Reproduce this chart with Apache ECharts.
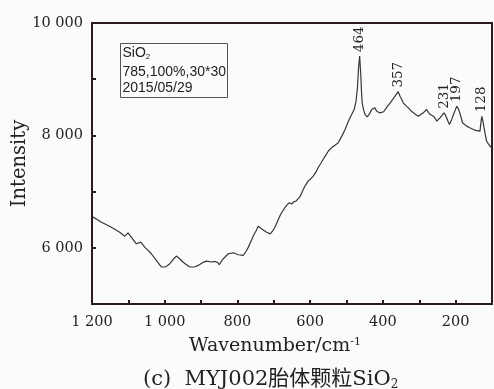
<!DOCTYPE html>
<html>
<head>
<meta charset="utf-8">
<script src="https://cdn.jsdelivr.net/npm/echarts@6/dist/echarts.min.js"></script>
<style>
  html, body { margin: 0; padding: 0; background: #fbfbfb; }
  #chart { width: 494px; height: 389px; }
</style>
</head>
<body>
<div id="chart"></div>
<script>
// Raman spectrum (wavenumber cm-1, intensity)
const wavenumbers = [
  1198, 1185, 1174, 1160, 1147, 1135, 1124, 1110, 1101, 1092, 1078, 1066, 1055, 1045, 1037,
  1023, 1009, 1000, 993, 986, 976, 968, 960, 950, 940, 931, 918, 908, 903, 895, 885, 871,
  862, 855, 850, 845, 839, 825, 811, 798, 784, 777, 770, 763, 756, 749, 743, 738, 733, 720,
  710, 703, 697, 690, 683, 676, 669, 663, 657, 651, 645, 639, 628, 621, 614, 605, 598, 591,
  584, 578, 571, 564, 557, 550, 541, 532, 523, 513, 504, 495, 486, 479, 474, 470, 467, 464,
  461, 459, 457, 453, 449, 443, 436, 431, 426, 422, 417, 413, 408, 403, 398, 394, 387, 380,
  373, 367, 362, 358, 353, 348, 344, 337, 330, 323, 316, 310, 303, 296, 289, 284, 280, 275,
  270, 261, 256, 252, 247, 243, 237, 232, 228, 225, 221, 217, 211, 206, 201, 197, 193, 190,
  185, 181, 176, 170, 165, 161, 156, 151, 145, 140, 133, 130, 128, 125, 121, 118, 115, 110,
  106, 101
];
const intensities = [
  6550, 6500, 6455, 6410, 6366, 6320, 6278, 6207, 6265, 6189, 6071, 6100, 6012, 5950, 5894,
  5775, 5658, 5658, 5680, 5717, 5800, 5853, 5810, 5747, 5700, 5658, 5658, 5687, 5717, 5740, 5764, 5747,
  5757, 5740, 5699, 5750, 5805, 5894, 5911, 5876, 5864, 5930, 6012, 6110, 6218, 6300, 6384, 6360, 6336, 6278,
  6248, 6300, 6366, 6470, 6572, 6650, 6720, 6770, 6800, 6779, 6820, 6830, 6910, 7010, 7103, 7191, 7230, 7280,
  7350, 7428, 7500, 7575, 7650, 7722, 7782, 7823, 7870, 7987, 8106, 8253, 8371, 8460, 8607, 8850, 9200, 9410,
  9100, 8800, 8579, 8450, 8371, 8331, 8390, 8460, 8470, 8490, 8430, 8430, 8400, 8371, 8420, 8460, 8520, 8579,
  8640, 8696, 8730, 8780, 8696, 8640, 8579, 8530, 8490, 8440, 8402, 8370, 8342, 8370, 8402, 8430, 8460, 8410,
  8371, 8342, 8300, 8253, 8280, 8313, 8360, 8402, 8360, 8313, 8250, 8195, 8280, 8371, 8450, 8518, 8480, 8430,
  8320, 8225, 8190, 8165, 8150, 8136, 8120, 8106, 8090, 8076, 8076, 8250, 8340, 8250, 8106, 8000, 7900, 7850,
  7811, 7782
];

// peak annotations
const peakLabels = ['464', '357', '231', '197', '128'];
const peakPositions = [464, 358, 232, 197, 128];
const peakHeights = [9410, 8780, 8402, 8518, 8340];

// tick labels shown on the axes
const xTickValues = [1200, 1000, 800, 600, 400, 200];
const yTickValues = [6000, 8000, 10000];

const legendLines = ['785,100%,30*30', '2015/05/29'];

const axisColor = '#2b1b1b';
const serif = '"DejaVu Serif", serif';

function spaced(v) {
  return String(v).replace(/\B(?=(\d{3})+(?!\d))/g, ' ');
}

const chart = echarts.init(document.getElementById('chart'), null, { renderer: 'canvas' });

const option = {
  backgroundColor: '#fbfbfb',
  animation: false,
  grid: {
    left: 92, right: 2, top: 23, bottom: 85,
    outerBoundsMode: 'none',
    show: true, borderColor: axisColor, borderWidth: 2
  },
  xAxis: {
    type: 'value',
    inverse: true,
    min: 100,
    max: 1200,
    interval: 100,
    name: 'Wavenumber/cm{sup|-1}',
    nameLocation: 'middle',
    nameGap: 33,
    nameMoveOverlap: false,
    nameTextStyle: {
      fontFamily: serif, fontSize: 19, color: '#222', padding: [0, 34, 0, 0],
      rich: { sup: { fontFamily: serif, fontSize: 11, color: '#222', verticalAlign: 'top', padding: [0, 0, 8, 0] } }
    },
    axisLine: { lineStyle: { color: axisColor, width: 2 } },
    axisTick: { inside: true, length: 4, lineStyle: { color: axisColor, width: 2 } },
    axisLabel: {
      margin: 11, fontFamily: serif, fontSize: 14.5, color: '#222',
      formatter: v => xTickValues.includes(v) ? spaced(v) : ''
    },
    splitLine: { show: false }
  },
  yAxis: {
    type: 'value',
    min: 5000,
    max: 10000,
    interval: 1000,
    name: 'Intensity',
    nameLocation: 'middle',
    nameGap: 62,
    nameMoveOverlap: false,
    nameTextStyle: { fontFamily: serif, fontSize: 19.5, color: '#222' },
    axisLine: { lineStyle: { color: axisColor, width: 2 } },
    axisTick: { inside: true, length: 4, lineStyle: { color: axisColor, width: 2 } },
    axisLabel: {
      margin: 9, fontFamily: serif, fontSize: 14.5, color: '#222',
      formatter: v => yTickValues.includes(v) ? spaced(v) : ''
    },
    splitLine: { show: false }
  },
  series: [
    {
      type: 'line',
      data: wavenumbers.map((w, i) => [w, intensities[i]]),
      showSymbol: false,
      lineStyle: { color: '#3a3535', width: 1.2 },
      markPoint: {
        symbol: 'circle',
        symbolSize: 0,
        label: {
          show: true,
          formatter: '{b}',
          position: 'top',
          distance: 4,
          rotate: 90,
          align: 'left',
          verticalAlign: 'middle',
          fontFamily: serif,
          fontSize: 13.5,
          color: '#222'
        },
        data: peakLabels.map((t, i) => ({ name: t, coord: [peakPositions[i], peakHeights[i]] }))
      }
    }
  ],
  graphic: [
    {
      type: 'group',
      left: 120,
      top: 43,
      children: [
        { type: 'rect', shape: { x: 0, y: 0, width: 107, height: 54 },
          style: { fill: 'transparent', stroke: '#555', lineWidth: 1 } },
        { type: 'text', x: 2, y: 3,
          style: { text: 'SiO{sub|2}', font: '14px "Liberation Sans", Arial, sans-serif', fill: '#222',
            rich: { sub: { fontSize: 8, fontFamily: '"Liberation Sans", Arial', fill: '#222', verticalAlign: 'bottom', padding: [6, 0, 0, 0] } } } },
        { type: 'text', x: 2, y: 22,
          style: { text: legendLines[0], font: '14px "Liberation Sans", Arial, sans-serif', fill: '#222' } },
        { type: 'text', x: 2, y: 38,
          style: { text: legendLines[1], font: '14px "Liberation Sans", Arial, sans-serif', fill: '#222' } }
      ]
    },
    {
      type: 'text',
      left: 143,
      top: 369,
      style: {
        text: '(c)  MYJ002胎体颗粒SiO{sub|2}',
        font: '21px "DejaVu Serif", "Noto Sans CJK SC", serif',
        fill: '#222',
        rich: { sub: { fontSize: 12, fontFamily: serif, fill: '#222', verticalAlign: 'bottom', padding: [11, 0, 0, 0] } }
      }
    }
  ]
};

chart.setOption(option);
window.addEventListener('resize', () => chart.resize());
</script>
</body>
</html>
